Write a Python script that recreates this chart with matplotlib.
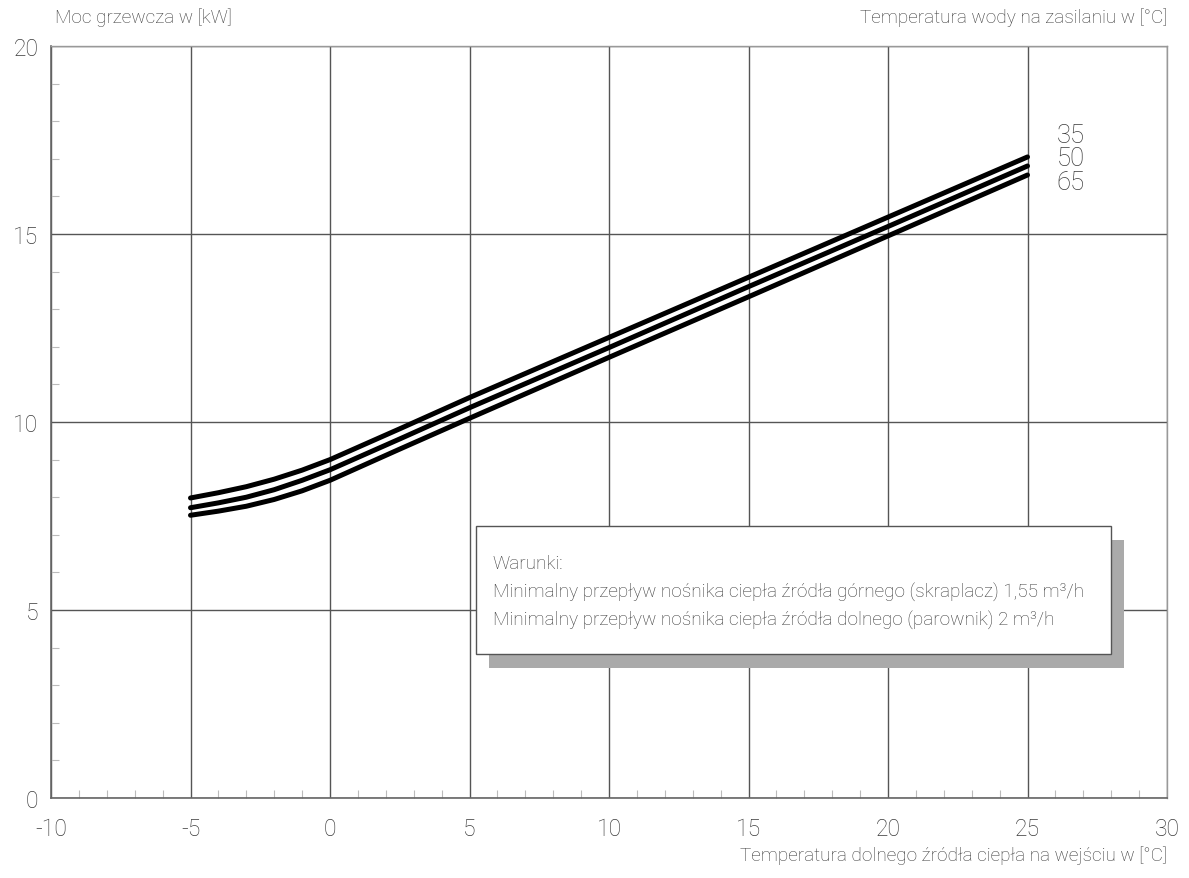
import matplotlib.pyplot as plt
from matplotlib.ticker import MultipleLocator
from matplotlib.patches import Rectangle

plt.rcParams['font.family'] = ['Roboto', 'DejaVu Sans']
plt.rcParams['font.weight'] = 'light'

# dane
temp_zrodla = [-5, -4, -3, -2, -1, 0, 2.5, 5, 10, 15, 20, 25]
moc_35 = [7.98, 8.12, 8.28, 8.48, 8.72, 9.00, 9.82, 10.65, 12.25, 13.85, 15.45, 17.05]
moc_50 = [7.72, 7.85, 8.00, 8.20, 8.45, 8.73, 9.55, 10.38, 11.98, 13.60, 15.20, 16.81]
moc_65 = [7.52, 7.63, 7.76, 7.94, 8.17, 8.45, 9.28, 10.10, 11.72, 13.33, 14.95, 16.57]
serie = {"35": moc_35, "50": moc_50, "65": moc_65}

tekst_warunki = [
    "Warunki:",
    "Minimalny przepływ nośnika ciepła źródła górnego (skraplacz) 1,55 m³/h",
    "Minimalny przepływ nośnika ciepła źródła dolnego (parownik) 2 m³/h",
]

szary = "#3a3a3a"

fig = plt.figure(figsize=(11.89, 8.79), dpi=100)
ax = fig.add_axes([0.0429, 0.091, 0.9386, 0.8555])

for nazwa, wart in serie.items():
    ax.plot(temp_zrodla, wart, color="black", lw=3.6, solid_capstyle="round", zorder=3)

ax.set_xlim(-10, 30)
ax.set_ylim(0, 20)
ax.xaxis.set_major_locator(MultipleLocator(5))
ax.yaxis.set_major_locator(MultipleLocator(5))
ax.xaxis.set_minor_locator(MultipleLocator(1))
ax.yaxis.set_minor_locator(MultipleLocator(1))
ax.tick_params(which="major", length=0, labelsize=16.5, labelcolor=szary)
ax.tick_params(axis="x", which="major", pad=14)
ax.tick_params(axis="y", which="major", pad=9)
ax.tick_params(which="minor", direction="in", length=6, color="#bbbbbb", width=0.8)
ax.set_xticks(range(-10, 31, 5))
ax.set_xticklabels([str(v) for v in range(-10, 31, 5)])
ax.grid(which="major", color="#555555", lw=1.0)

for s in ["left", "bottom"]:
    ax.spines[s].set_color("#666666")
    ax.spines[s].set_linewidth(1.2)
for s in ["top", "right"]:
    ax.spines[s].set_color("#999999")
    ax.spines[s].set_linewidth(1.0)

# etykiety krzywych
for nazwa, yy in zip(["35", "50", "65"], [17.63, 17.02, 16.38]):
    ax.text(26.55, yy, nazwa, fontsize=18.5, color=szary, ha="center", va="center")

# ramka z warunkami
cien = Rectangle((5.7, 3.45), 22.75, 3.4, facecolor="#aaaaaa", edgecolor="none", zorder=4)
ramka = Rectangle((5.23, 3.83), 22.77, 3.4, facecolor="white", edgecolor="#555555", lw=1.0, zorder=5)
ax.add_patch(cien)
ax.add_patch(ramka)
for i, linia in enumerate(tekst_warunki):
    ax.text(5.83, 6.24 - i * 0.74, linia, fontsize=13.7, color=szary, va="center", ha="left", zorder=6)

fig.text(0.046, 0.98, "Moc grzewcza w [kW]", fontsize=13.7, color=szary, ha="left", va="center")
fig.text(0.9815, 0.98, "Temperatura wody na zasilaniu w [°C]", fontsize=13.7, color=szary, ha="right", va="center")
fig.text(0.9815, 0.027, "Temperatura dolnego źródła ciepła na wejściu w [°C]", fontsize=13.7, color=szary,
         ha="right", va="center")

fig.savefig("out.png", dpi=100)
